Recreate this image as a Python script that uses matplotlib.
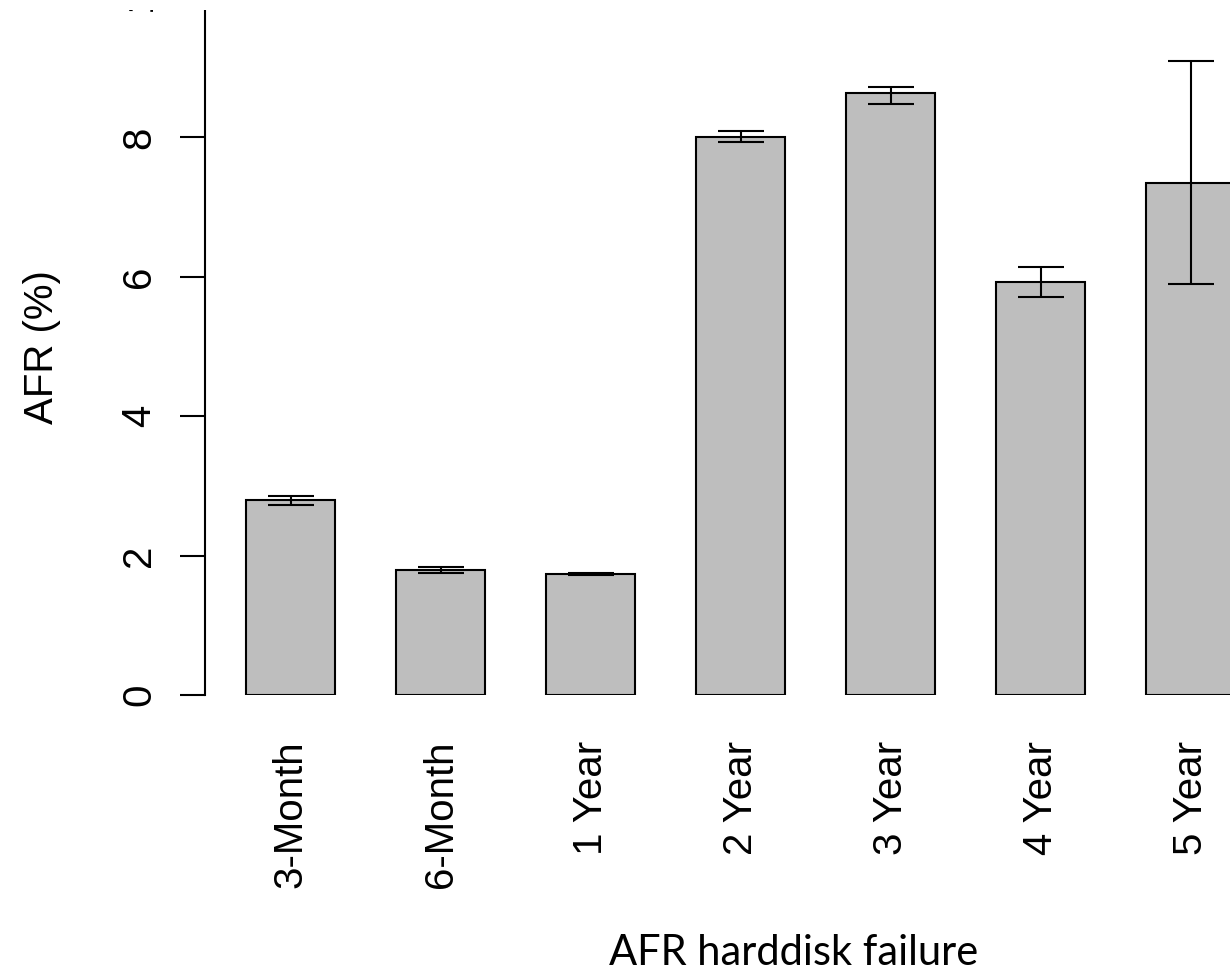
import matplotlib
matplotlib.use("Agg")
import matplotlib.pyplot as plt
import matplotlib.transforms as mtransforms
from matplotlib.patches import Rectangle
import numpy as np

PERIODS = ["3-Month", "6-Month", "1 Year", "2 Year", "3 Year", "4 Year", "5 Year"]
AFR = [2.80, 1.79, 1.735, 8.01, 8.635, 5.925, 7.35]
ERR_LOW = [0.07, 0.04, 0.02, 0.08, 0.15, 0.215, 1.45]
ERR_HIGH = [0.06, 0.04, 0.02, 0.08, 0.09, 0.215, 1.75]
Y_TICKS = [0, 2, 4, 6, 8]

W, H = 1230, 972
plt.rcParams["font.family"] = ["Liberation Sans", "DejaVu Sans"]

fig = plt.figure(figsize=(W / 100, H / 100), dpi=100)
# axes box in pixel terms: left spine at x=205, y=0 at 695 px, top cut at 10 px
ax = fig.add_axes([205 / W, 1 - 695 / H, 1 - 205 / W, (695 - 10) / H])

x = np.arange(len(PERIODS))
ax.bar(x, AFR, width=0.593, color="#bebebe", edgecolor="black", linewidth=1.5, zorder=2)
ax.errorbar(x, AFR, yerr=[ERR_LOW, ERR_HIGH], fmt="none", ecolor="black", elinewidth=1.5,
            capsize=16.5, capthick=1.5, zorder=3)

ax.set_xlim(-0.57, 6.263)
ax.set_ylim(0, (695 - 10) / 69.7)

for side in ("top", "right", "bottom"):
    ax.spines[side].set_visible(False)
ax.spines["left"].set_linewidth(1.5)
ax.spines["left"].set_bounds(0, 10)

ax.set_yticks(Y_TICKS)
ax.set_yticklabels([str(t) for t in Y_TICKS], rotation=90, va="center", fontsize=29)
ax.tick_params(axis="y", length=18, width=1.5, pad=15.5)

ax.set_xticks(x)
ax.set_xticklabels(PERIODS, rotation=90, ha="center", va="top", fontsize=29)
ax.tick_params(axis="x", length=0, pad=33)

ax.set_ylabel("AFR (%)", fontsize=29)
ax.yaxis.set_label_coords((61.5 - 205) / (W - 205), (695 - 347) / (695 - 10))

# the "10" label sits above the cut; only a sliver remains visible
trans = mtransforms.blended_transform_factory(fig.transFigure, ax.transData)
ax.text(158.5 / W, 10.13, "10", transform=trans, rotation=90, ha="right", va="center",
        fontsize=29, clip_on=False)
fig.patches.append(Rectangle((0, 1 - 10 / H), 1, 10 / H, transform=fig.transFigure,
                             facecolor="white", edgecolor="none", zorder=10))

fig.text(793.5 / W, 0.0, "AFR harddisk failure", family=["Lato", "DejaVu Sans"],
         fontsize=30, ha="center", va="bottom")

fig.savefig("out.png", dpi=100, facecolor="white")
